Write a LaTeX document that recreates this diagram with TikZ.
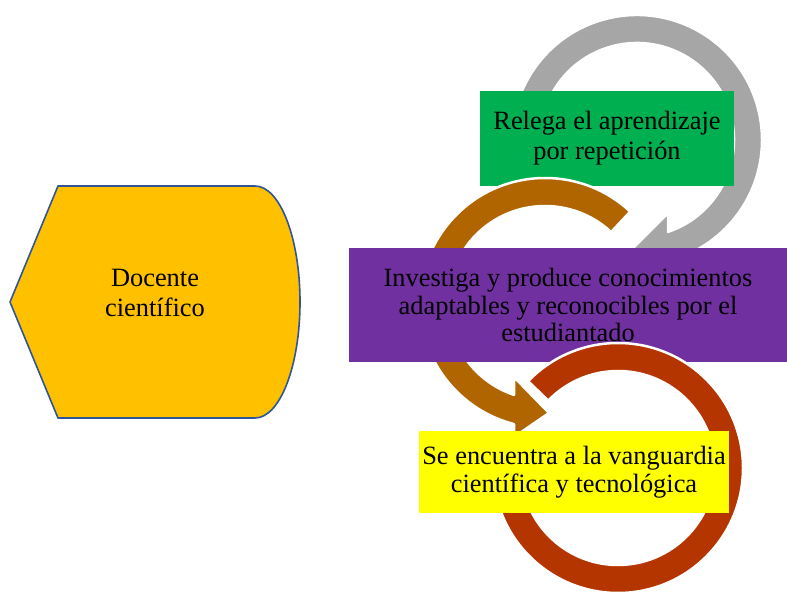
\documentclass[tikz,border=0pt]{standalone}
\usepackage{fontspec}
\setmainfont{Liberation Serif}
\definecolor{docfill}{HTML}{FFC000}
\definecolor{docline}{HTML}{2F5597}
\definecolor{grayc}{HTML}{A6A6A6}
\definecolor{brownc}{HTML}{B06500}
\definecolor{redc}{HTML}{B53500}
\definecolor{greenc}{HTML}{00B050}
\definecolor{purplec}{HTML}{7030A0}
\definecolor{yellowc}{HTML}{FFFF00}
\begin{document}
\begin{tikzpicture}[x=1pt,y=1pt,
  lbl/.style={font=\fontsize{26.4}{30}\selectfont, align=center, text=black},
  ring/.style={draw=white, line width=2.5pt, line join=round},
  tbox/.style={lbl, inner sep=0pt, outer sep=0pt}]
\useasboundingbox (0,0) rectangle (787,595);
\fill[white] (0,0) rectangle (787,595);

% left shape
\draw[fill=docfill, draw=docline, line width=1.6pt, line join=round]
  (10,293) -- (58,409) -- (255,409)
  arc[start angle=90, end angle=-90, x radius=45, y radius=116]
  -- (58,177) -- cycle;
\node[lbl] (doc) at (155,302) {Docente\\científico};

% gray circular arrow
\path[ring, fill=grayc] ([shift={(637,455)}]195:125)
  arc[start angle=195, end angle=-75.64, radius=125]
  -- (668,316) -- (630,344) -- (668,382) -- (668,363.1)
  arc[start angle=-71.36, end angle=195, radius=97] -- cycle;
\node[tbox, fill=greenc, minimum width=254pt, minimum height=95pt] (g) at (607,456.5)
  {Relega el aprendizaje\\por repetición};

% brown circular arrow
\path[ring, fill=brownc] ([shift={(545,292)}]47:125)
  arc[start angle=47, end angle=255.64, radius=125]
  -- (514,158) -- (549,182) -- (514,218) -- (514,200.1)
  arc[start angle=251.36, end angle=47, radius=97] -- cycle;
\node[tbox, fill=purplec, minimum width=438pt, minimum height=114pt,
  font=\fontsize{26.4}{27.5}\selectfont] (p) at (568,290)
  {Investiga y produce conocimientos\\adaptables y reconocibles por el\\estudiantado};

% red circular arrow
\path[ring, fill=redc] ([shift={(618,127)}]136:125)
  arc[start angle=136, end angle=-178, radius=125]
  -- ([shift={(618,127)}]-178:97)
  arc[start angle=-178, end angle=136, radius=97] -- cycle;
\node[tbox, fill=yellowc, minimum width=310pt, minimum height=82pt,
  font=\fontsize{26.4}{28.5}\selectfont] (y) at (574,123)
  {Se encuentra a la vanguardia\\científica y tecnológica};
\end{tikzpicture}
\end{document}
